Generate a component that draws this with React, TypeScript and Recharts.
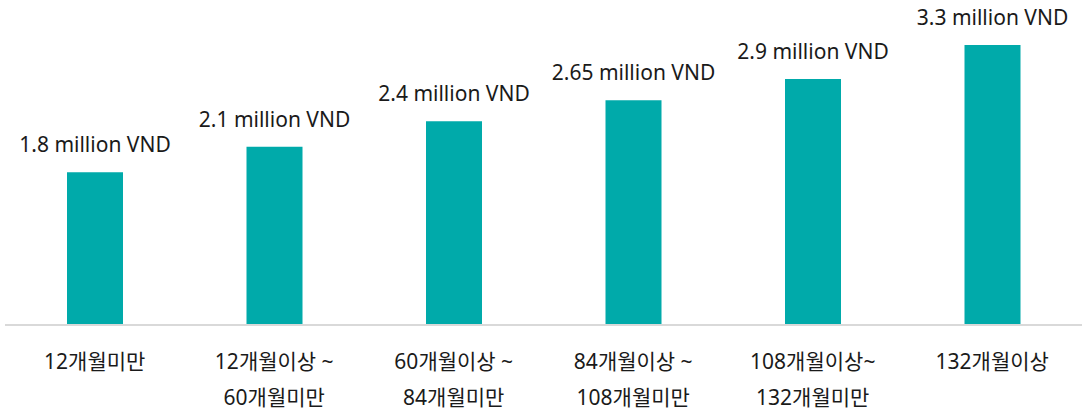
import React from "react";
import { BarChart, Bar, XAxis, YAxis, LabelList } from "recharts";

const categoriesLine1 = ["12개월미만", "12개월이상 ~", "60개월이상 ~", "84개월이상 ~", "108개월이상~", "132개월이상"];
const categoriesLine2 = ["", "60개월미만", "84개월미만", "108개월미만", "132개월미만", ""];
const values = [1.8, 2.1, 2.4, 2.65, 2.9, 3.3];
const valueLabels = ["1.8 million VND", "2.1 million VND", "2.4 million VND", "2.65 million VND", "2.9 million VND", "3.3 million VND"];

const data = values.map((v, i) => ({ name: String(i), value: v, label: valueLabels[i] }));

const FONT = "'Noto Sans', 'Noto Sans CJK KR', sans-serif";

const Tick = (props: any) => {
  const { x, y, payload } = props;
  const i = Number(payload.value);
  return (
    <g>
      <text x={x} y={y + 44} textAnchor="middle" fontFamily={FONT} fontSize={21} fill="#1a1a1a">
        {categoriesLine1[i]}
      </text>
      {categoriesLine2[i] ? (
        <text x={x} y={y + 80} textAnchor="middle" fontFamily={FONT} fontSize={21} fill="#1a1a1a">
          {categoriesLine2[i]}
        </text>
      ) : null}
    </g>
  );
};

const ValueLabel = (props: any) => {
  const { x, y, width, value } = props;
  return (
    <text x={Number(x) + Number(width) / 2} y={Number(y) - 20} textAnchor="middle" fontFamily={FONT} fontSize={21} fill="#1a1a1a">
      {value}
    </text>
  );
};

export default function App() {
  return (
    <div style={{ position: "absolute", left: 0, top: 0, background: "#fff" }}>
      <BarChart width={1082} height={410} data={data} margin={{ top: 28, right: 0, bottom: 0, left: 5 }}>
        <XAxis
          dataKey="name"
          axisLine={{ stroke: "#d9d9d9", strokeWidth: 2 }}
          tickLine={false}
          tickSize={0}
          tickMargin={0}
          tick={<Tick />}
          interval={0}
          height={85}
        />
        <YAxis hide domain={[0, 3.5]} />
        <Bar dataKey="value" fill="#00AAAA" barSize={56} isAnimationActive={false}>
          <LabelList dataKey="label" content={<ValueLabel />} />
        </Bar>
      </BarChart>
    </div>
  );
}
